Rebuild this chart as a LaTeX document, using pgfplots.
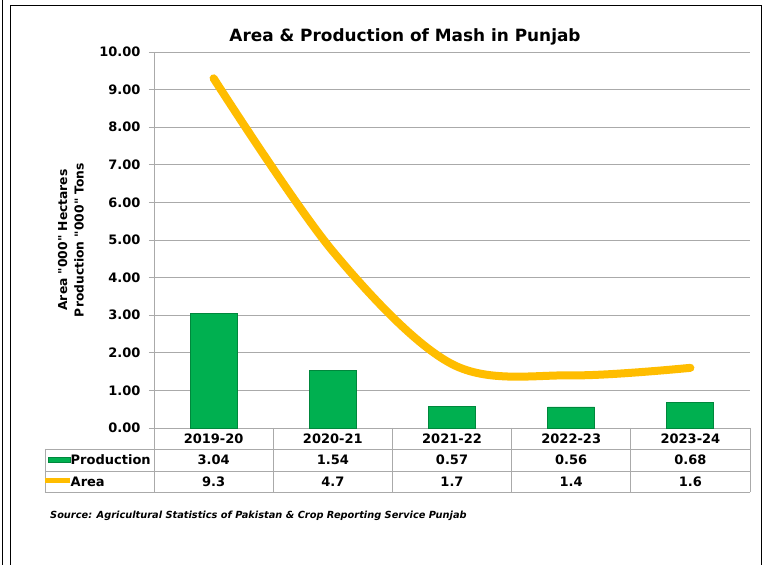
\documentclass[border=0pt]{standalone}
\usepackage{fontspec}
\setmainfont{DejaVu Sans}[Ligatures=TeXOff]
\usepackage{pgfplots}
\pgfplotsset{compat=1.18}
\definecolor{barg}{RGB}{0,176,80}
\definecolor{bargd}{RGB}{0,135,60}
\definecolor{lineY}{RGB}{255,189,0}
\definecolor{gridg}{RGB}{170,170,170}
\begin{document}
\begin{tikzpicture}
\begin{scope}[x=1pt,y=1pt,shift={(-154pt,-137pt)}]
\useasboundingbox (0,0) rectangle (772,565);
\fill[white] (0,0) rectangle (772,565);
\draw[black, line width=1pt] (3,0) -- (3,565);
\draw[black, line width=1pt] (11,0) -- (11,559) -- (761,559) -- (761,0);
\end{scope}
\begin{axis}[
  scale only axis,
  width=596pt, height=376pt,
  xmin=-0.5, xmax=4.5, ymin=0, ymax=10,
  ytick={0,1,...,10}, xtick=\empty,
  ymajorgrids, grid style={gridg, line width=0.9pt},
  axis x line*=bottom, axis y line*=left,
  axis line style={gridg, line width=0.9pt, -},
  tick style={gridg, line width=0.9pt}, major tick length=5pt, tick align=outside,
  yticklabel style={font=\bfseries\fontsize{13}{13}\selectfont, xshift=-5pt,
    /pgf/number format/.cd, fixed, fixed zerofill, precision=2, assume math mode=true},
  clip=false
]
\addplot[ybar, bar width=47pt, fill=barg, draw=bargd, line width=0.8pt]
  coordinates {(0,3.04) (1,1.54) (2,0.57) (3,0.56) (4,0.68)};
\addplot[lineY, line width=8pt, smooth, tension=0.55, line cap=round]
  coordinates {(0,9.3) (1,4.7) (2,1.7) (3,1.4) (4,1.6)};
\end{axis}
\begin{scope}[x=1pt,y=1pt,shift={(-154pt,-137pt)}]
% title
\node[font=\bfseries\fontsize{16.9}{17}\selectfont] at (405,528) {Area \& Production of Mash in Punjab};
% y label
\node[rotate=90, align=center, font=\bfseries\fontsize{12.3}{16.5}\selectfont] at (71,325)
  {Area "000" Hectares\\Production "000" Tons};
% data table
\draw[gridg, line width=0.9pt] (45,116) -- (750,116) (45,94) -- (750,94) (45,73) -- (750,73) (45,116) -- (45,73);
\foreach \xx in {154,273.2,392.4,511.6,630.8,750} {
  \draw[gridg, line width=0.9pt] (\xx,137) -- (\xx,73);
}
\foreach \xx/\c/\p/\a in {213.6/2019-20/3.04/9.3, 332.8/2020-21/1.54/4.7, 452/2021-22/0.57/1.7, 571.2/2022-23/0.56/1.4, 690.4/2023-24/0.68/1.6} {
  \node[font=\bfseries\fontsize{13}{13}\selectfont] at (\xx,126.5) {\c};
  \node[font=\bfseries\fontsize{13}{13}\selectfont] at (\xx,105) {\p};
  \node[font=\bfseries\fontsize{13}{13}\selectfont] at (\xx,83.5) {\a};
}
\fill[barg, draw=bargd, line width=0.6pt] (48,102.5) rectangle (70,108);
\draw[lineY, line width=5pt] (45,84) -- (70,84);
\node[anchor=west, inner sep=0pt, font=\bfseries\fontsize{13}{13}\selectfont] at (70.5,105) {Production};
\node[anchor=west, inner sep=0pt, font=\bfseries\fontsize{13}{13}\selectfont] at (70.5,83.5) {Area};
% source
\node[anchor=west, inner sep=0pt, font=\bfseries\itshape\fontsize{9.8}{10}\selectfont] at (50,49)
  {Source: Agricultural Statistics of Pakistan \& Crop Reporting Service Punjab};
\end{scope}
\end{tikzpicture}
\end{document}
